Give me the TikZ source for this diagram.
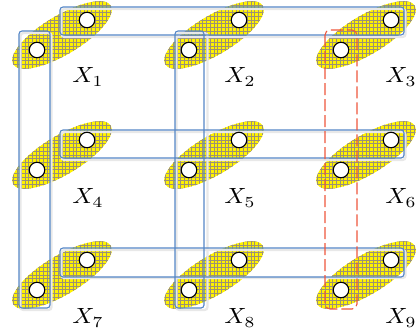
\documentclass[tikz,border=0pt]{standalone}
\usepackage{graphicx}
\definecolor{boxblue}{RGB}{84,134,198}
\definecolor{boxred}{RGB}{238,86,60}
\definecolor{hatchgray}{RGB}{156,146,116}
\newcommand{\biglab}[1]{\scalebox{2.45}[2.2]{$#1$}}

\begin{document}
\begin{tikzpicture}[x=1pt,y=-1pt,line width=1.1pt,
  hatch/.style={draw=hatchgray,line width=0.9pt},
  dot/.style={circle,draw=black,fill=white,line width=1.1pt,minimum size=15.5pt,inner sep=0pt},
  rowbox/.style={draw=boxblue,line width=1.1pt,rounded corners=3pt},
  shadowbox/.style={draw=black!9,line width=2.4pt,rounded corners=3pt},
  pickbox/.style={draw=boxred,dashed,dash pattern=on 12pt off 4pt,rounded corners=5pt},
  lab/.style={inner sep=0pt}]
  \useasboundingbox (0,0) rectangle (419,335);
  % ellipses (x_i), yellow with a grid
  \foreach \r in {0,1,2}
    \foreach \c in {0,1,2}{
      \pgfmathsetmacro\cx{62+152*\c}
      \pgfmathsetmacro\cy{35+120*\r}
      \begin{scope}
        \clip[rotate around={31:(\cx,\cy)}] (\cx,\cy) ellipse [x radius=57,y radius=19.5];
        \fill[yellow] (\cx-60,\cy-60) rectangle (\cx+60,\cy+60);
        \foreach \k in {-16,...,16}{
          \draw[hatch] (\cx+3.7*\k,\cy-60) -- (\cx+3.7*\k,\cy+60);
          \draw[hatch] (\cx-60,\cy+3.7*\k) -- (\cx+60,\cy+3.7*\k);
        }
      \end{scope}
    }
  % shadows of the boxes
  \foreach \y in {7,130,248}
    \draw[shadowbox] (61.5,\y+2) rectangle (405.5,\y+30);
  \foreach \x in {19,175}
    \draw[shadowbox] (\x+1.5,33) rectangle (\x+32.5,310);
  % rows and columns
  \draw[rowbox] (60,7) rectangle (404,35);
  \draw[rowbox] (60,130) rectangle (404,158);
  \draw[rowbox] (60,248) rectangle (404,277);
  \draw[rowbox] (19,31) rectangle (50,308);
  \draw[rowbox] (175,31) rectangle (204,308);
  \draw[pickbox] (325,30) rectangle (357,309);
  % points
  \foreach \r in {0,1,2}
    \foreach \c in {0,1,2}{
      \pgfmathtruncatemacro\n{3*\r+\c+1}
      \node[dot] (a\n) at (37+152*\c,50+120*\r) {};
      \node[dot] (b\n) at (87+152*\c,20+120*\r) {};
    }
  % labels
  \foreach \c/\x in {0/88,1/240,2/401}
    \foreach \r/\y in {0/77,1/198,2/318}{
      \pgfmathtruncatemacro\n{3*\r+\c+1}
      \node[lab] (x\n) at (\x,\y) {\biglab{X_{\n}}};
    }
\end{tikzpicture}
\end{document}
